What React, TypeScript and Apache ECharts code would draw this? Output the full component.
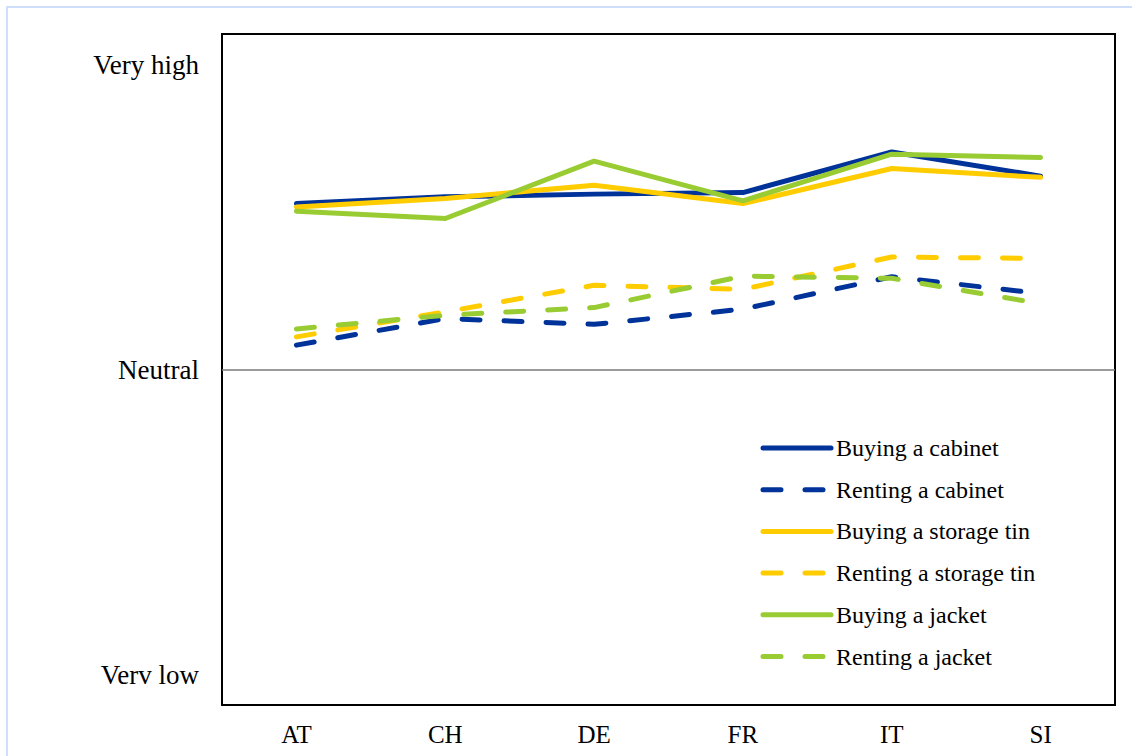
import React, { useEffect, useRef } from "react";
import * as echarts from "echarts";

const countries = ["AT", "CH", "DE", "FR", "IT", "SI"];
const buyingCabinet = [0.544, 0.566, 0.575, 0.58, 0.713, 0.634];
const rentingCabinet = [0.08, 0.167, 0.148, 0.198, 0.304, 0.249];
const buyingTin = [0.533, 0.561, 0.604, 0.544, 0.659, 0.63];
const rentingTin = [0.107, 0.189, 0.276, 0.263, 0.369, 0.364];
const buyingJacket = [0.519, 0.495, 0.683, 0.553, 0.706, 0.695];
const rentingJacket = [0.133, 0.178, 0.203, 0.306, 0.299, 0.216];
const yTickLabels: Record<string, string> = { "1": "Very high", "0": "Neutral", "-1": "Verv low" };

const NAVY = "#003399";
const YELLOW = "#FFCC00";
const GREEN = "#99CC33";
const FONT = "'Liberation Serif', 'Times New Roman', serif";

function lineSeries(name: string, data: number[], color: string, dashed: boolean, extra: any = {}) {
  const ls = {
    color,
    width: 5,
    type: dashed ? [18, 24] : "solid",
    cap: "round",
    join: "round",
  };
  return {
    name,
    type: "line",
    data,
    symbol: "none",
    showSymbol: false,
    lineStyle: ls,
    itemStyle: { color },
    emphasis: { disabled: true },
    ...extra,
  };
}

export default function App() {
  const ref = useRef<HTMLDivElement>(null);
  useEffect(() => {
    if (!ref.current) return;
    const chart = echarts.init(ref.current, null, { renderer: "svg" });
    chart.setOption({
      animation: false,
      grid: {
        show: true,
        left: 222,
        right: 17,
        top: 34,
        bottom: 51,
        borderColor: "#000",
        borderWidth: 2,
        backgroundColor: "transparent",
      },
      legend: {
        orient: "vertical",
        left: 760.5,
        top: 436,
        padding: 0,
        itemWidth: 68,
        itemHeight: 14,
        itemGap: 17.7,
        itemStyle: { opacity: 0 },
        lineStyle: { width: 5, cap: "round", join: "round" },
        textStyle: { fontFamily: FONT, fontSize: 24, color: "#000", lineHeight: 24 },
        data: [
          "Buying a cabinet",
          "Renting a cabinet",
          "Buying a storage tin",
          "Renting a storage tin",
          "Buying a jacket",
          "Renting a jacket",
        ],
      },
      xAxis: {
        type: "category",
        data: countries,
        boundaryGap: true,
        axisLine: { show: false },
        axisTick: { show: false },
        axisLabel: { fontFamily: FONT, fontSize: 25, color: "#000", margin: 17 },
        splitLine: { show: false },
      },
      yAxis: {
        type: "value",
        min: -1.1,
        max: 1.1,
        interval: 0.1,
        axisLine: { show: false },
        axisTick: { show: false },
        splitLine: { show: false },
        axisLabel: {
          fontFamily: FONT,
          fontSize: 27,
          color: "#000",
          margin: 23,
          formatter: (v: number) => {
            const r = Math.round(v * 10) / 10;
            const key = String(Math.abs(r) < 1e-9 ? 0 : r);
            return yTickLabels[key] ?? "";
          },
        },
      },
      series: [
        lineSeries("Buying a cabinet", buyingCabinet, NAVY, false, {
          markLine: {
            silent: true,
            symbol: "none",
            label: { show: false },
            lineStyle: { color: "#7a7a7a", width: 1.5, type: "solid" },
            data: [{ yAxis: 0 }],
          },
        }),
        lineSeries("Renting a cabinet", rentingCabinet, NAVY, true),
        lineSeries("Buying a storage tin", buyingTin, YELLOW, false),
        lineSeries("Renting a storage tin", rentingTin, YELLOW, true),
        lineSeries("Buying a jacket", buyingJacket, GREEN, false),
        lineSeries("Renting a jacket", rentingJacket, GREEN, true),
      ],
    });
    return () => chart.dispose();
  }, []);
  return (
    <>
      <div
        style={{
          position: "absolute",
          left: 6,
          top: 6,
          width: 1124,
          height: 748,
          borderLeft: "2px solid #cfdffb",
          borderTop: "2px solid #cfdffb",
          pointerEvents: "none",
        }}
      />
      <div ref={ref} style={{ position: "absolute", left: 0, top: 0, width: 1132, height: 756 }} />
    </>
  );
}
